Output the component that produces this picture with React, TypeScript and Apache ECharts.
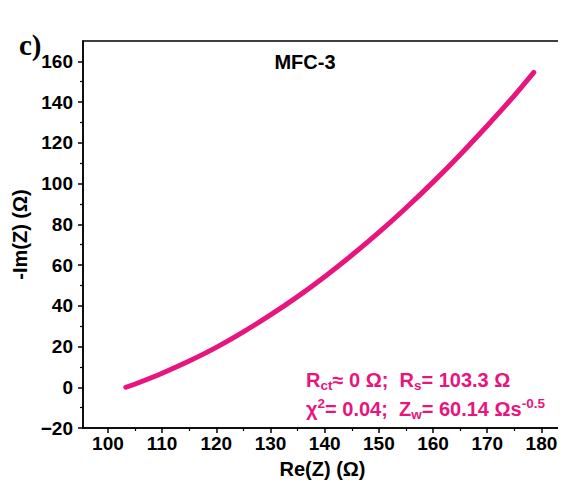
import React, { useEffect, useRef } from "react";
import * as echarts from "echarts";

// Nyquist data for MFC-3: Re(Z) vs -Im(Z), in ohms
const reZ = [103.3, 106, 110, 115, 120, 125, 130, 135, 140, 145, 150, 155, 160, 165, 170, 175, 178.6];
const negImZ = [0, 2.6, 6.9, 12.9, 19.6, 27.2, 35.5, 44.5, 54.3, 64.8, 76, 88, 100.7, 114.2, 128.4, 143.2, 154.6];

const xMajorTicks = [100, 110, 120, 130, 140, 150, 160, 170, 180];
const xMinorTicks = [105, 115, 125, 135, 145, 155, 165, 175];
const yMajorTicks = [-20, 0, 20, 40, 60, 80, 100, 120, 140, 160];
const yMinorTicks = [-10, 10, 30, 50, 70, 90, 110, 130, 150];

const PINK = "#E8157E";
const SANS = "Arial, 'Liberation Sans', sans-serif";

export default function App() {
  const ref = useRef<HTMLDivElement>(null);

  useEffect(() => {
    if (!ref.current) return;
    const chart = echarts.init(ref.current, undefined, { renderer: "svg" });

    const tickLabel = {
      color: "#000",
      fontFamily: SANS,
      fontWeight: "bold" as const,
      fontSize: 19,
    };

    const data = reZ.map((x, i) => [x, negImZ[i]]);

    const baseRich = {
      n: { fontFamily: SANS, fontWeight: "bold", fontSize: 20, fill: PINK, lineHeight: 25, verticalAlign: "middle" },
      sub: { fontFamily: SANS, fontWeight: "bold", fontSize: 13.5, fill: PINK, lineHeight: 14, verticalAlign: "bottom" },
      sup: { fontFamily: SANS, fontWeight: "bold", fontSize: 13.5, fill: PINK, lineHeight: 15, verticalAlign: "top" },
    };

    chart.setOption({
      animation: false,
      backgroundColor: "#fff",
      grid: {
        left: 83,
        top: 41,
        right: 4,
        bottom: 64,
        show: true,
        borderColor: "#000",
        borderWidth: 1.5,
        backgroundColor: "transparent",
      },
      xAxis: [
        {
          type: "value",
          min: 95.4,
          max: 183.8,
          name: "Re(Z) (Ω)",
          nameLocation: "middle",
          nameGap: 31,
          nameTextStyle: { color: "#000", fontFamily: SANS, fontWeight: "bold", fontSize: 20 },
          axisLine: { show: true, onZero: false, lineStyle: { color: "#000", width: 1.5 } },
          axisTick: { show: true, inside: false, length: 5, customValues: xMajorTicks, lineStyle: { color: "#000", width: 1.5 } },
          axisLabel: { ...tickLabel, margin: 6, customValues: xMajorTicks },
          splitLine: { show: false },
        },
        {
          type: "value",
          min: 95.4,
          max: 183.8,
          position: "bottom",
          axisLine: { show: false, onZero: false },
          axisTick: { show: true, inside: false, length: 3, customValues: xMinorTicks, lineStyle: { color: "#000", width: 1.2 } },
          axisLabel: { show: false },
          splitLine: { show: false },
        },
      ],
      yAxis: [
        {
          type: "value",
          min: -20,
          max: 170,
          name: "-Im(Z) (Ω)",
          nameLocation: "middle",
          nameGap: 48,
          nameTextStyle: { color: "#000", fontFamily: SANS, fontWeight: "bold", fontSize: 20 },
          axisLine: { show: true, onZero: false, lineStyle: { color: "#000", width: 1.5 } },
          axisTick: { show: true, inside: false, length: 5, customValues: yMajorTicks, lineStyle: { color: "#000", width: 1.5 } },
          axisLabel: {
            ...tickLabel,
            margin: 10,
            customValues: yMajorTicks,
            formatter: (v: number) => String(v).replace("-", "−"),
          },
          splitLine: { show: false },
        },
        {
          type: "value",
          min: -20,
          max: 170,
          position: "left",
          axisLine: { show: false, onZero: false },
          axisTick: { show: true, inside: false, length: 3, customValues: yMinorTicks, lineStyle: { color: "#000", width: 1.2 } },
          axisLabel: { show: false },
          splitLine: { show: false },
        },
      ],
      series: [
        {
          type: "line",
          xAxisIndex: 0,
          yAxisIndex: 0,
          data,
          smooth: 0.2,
          showSymbol: false,
          lineStyle: { color: PINK, width: 5, cap: "round", join: "round" },
        },
      ],
      graphic: [
        {
          type: "text",
          left: 19,
          top: 30,
          style: {
            text: "c)",
            fontFamily: "'Times New Roman', 'Liberation Serif', serif",
            fontWeight: "bold",
            fontSize: 29,
            fill: "#000",
          },
        },
        {
          type: "text",
          x: 305,
          y: 62,
          style: {
            text: "MFC-3",
            fontFamily: SANS,
            fontWeight: "bold",
            fontSize: 20,
            fill: "#000",
            align: "center",
            verticalAlign: "middle",
          },
        },
        {
          type: "text",
          x: 306,
          y: 380,
          style: {
            text: "{n|R}{sub|ct}{n|≈ 0 Ω;  R}{sub|s}{n|= 103.3 Ω}",
            verticalAlign: "middle",
            rich: baseRich,
          },
        },
        {
          type: "text",
          x: 306,
          y: 409,
          style: {
            text: "{n|χ}{sup|2}{n|= 0.04;  Z}{sub|w}{n|= 60.14 Ωs}{sup|-0.5}",
            verticalAlign: "middle",
            rich: baseRich,
          },
        },
      ],
    });

    return () => chart.dispose();
  }, []);

  return <div ref={ref} style={{ width: 566, height: 492, margin: -8 }} />;
}
